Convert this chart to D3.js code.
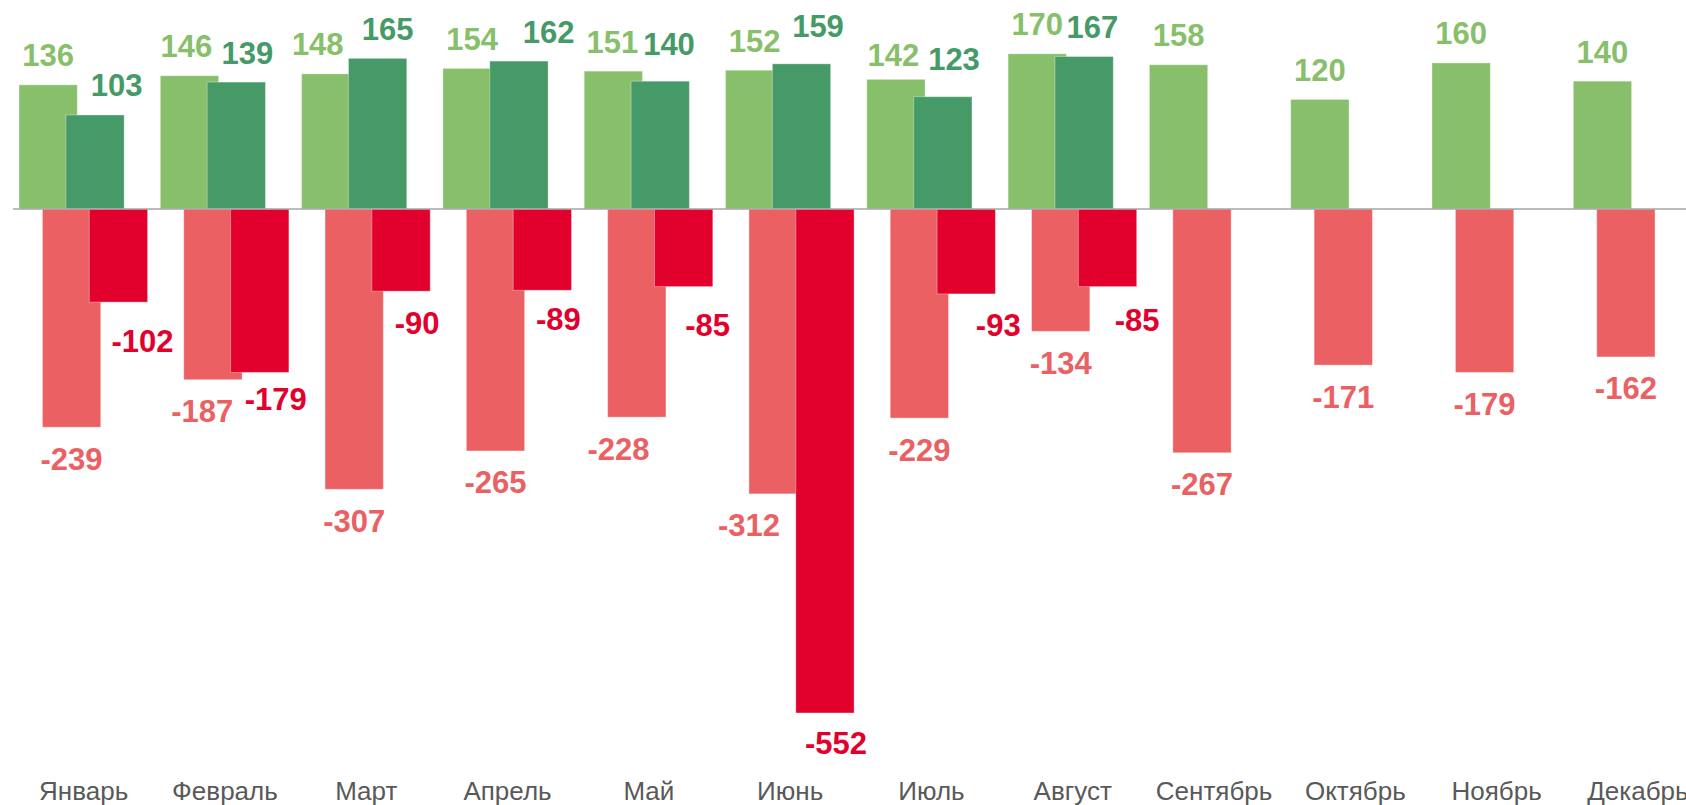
<!DOCTYPE html>
<html lang="ru">
<head>
    <meta charset="UTF-8">
    <title>Доходы и расходы по месяцам</title>
    <style>
        body { margin: 0; background: #fff; }
        svg { display: block; }
    </style>
</head>
<body>
<script src="https://cdn.jsdelivr.net/npm/d3@7"></script>
<script type="text/javascript">
    // Data
    var months = ["Январь", "Февраль", "Март", "Апрель", "Май", "Июнь",
        "Июль", "Август", "Сентябрь", "Октябрь", "Ноябрь", "Декабрь"];
    var incomePrev = [136, 146, 148, 154, 151, 152, 142, 170, 158, 120, 160, 140];
    var incomeCur = [103, 139, 165, 162, 140, 159, 123, 167];
    var expensePrev = [-239, -187, -307, -265, -228, -312, -229, -134, -267, -171, -179, -162];
    var expenseCur = [-102, -179, -90, -89, -85, -552, -93, -85];

    // Hand-placed label nudges (dx, dy in px), like the dragged labels of the original
    var nudgeIncomePrev = [[0,0],[-3,0],[-13,0],[0,0],[-1,0],[0,0],[-2.5,5],[0,0],[0,0],[0,0],[0,0],[0,0]];
    var nudgeIncomeCur = [[21.6,0],[11,0],[10,0],[29.8,0],[8.8,-7.7],[16.5,-8],[11.2,-8.2],[8.3,0]];
    var nudgeExpensePrev = [[0,0],[-10.7,0],[0,0],[0,0],[-18.3,0],[-29,0],[0,0],[0,0],[0,0],[0,0],[0,0],[0,0]];
    var nudgeExpenseCur = [[24,7],[16,-5],[16,0],[16,-3],[24,7],[11,-1.5],[32,0],[29.6,2]];

    var w = 1686;
    var h = 805;

    var series = [
        { key: "incPrev", values: incomePrev, color: "#87bf6b", nudge: nudgeIncomePrev },
        { key: "expPrev", values: expensePrev, color: "#eb6063", nudge: nudgeExpensePrev },
        { key: "incCur", values: incomeCur, color: "#459a67", nudge: nudgeIncomeCur },
        { key: "expCur", values: expenseCur, color: "#e2002c", nudge: nudgeExpenseCur }
    ];

    //Scales
    var xScale = d3.scaleBand()
        .domain(months)
        .range([13, 13 + 141.3 * months.length]);
    var slot = d3.scalePoint()
        .domain(["incPrev", "expPrev", "incCur", "expCur"])
        .range([6, 76.3]);
    var barW = 58.3;

    var yScale = d3.scaleLinear()
        .domain([-600, 200])
        .range([209 + 600 * 0.913, 209 - 200 * 0.913]);

    var svg = d3.select("body")
        .append("svg")
        .attr("width", w)
        .attr("height", h);

    // flatten to bars
    var bars = [];
    series.forEach(function (s) {
        s.values.forEach(function (v, i) {
            bars.push({ key: s.key, month: months[i], value: v, color: s.color,
                dx: s.nudge[i][0], dy: s.nudge[i][1] });
        });
    });
    // draw order: light green, dark green, light red, dark red
    var order = { incPrev: 0, incCur: 1, expPrev: 2, expCur: 3 };
    bars.sort(function (a, b) { return order[a.key] - order[b.key]; });

    svg.selectAll("rect.bar")
        .data(bars)
        .enter()
        .append("rect")
        .attr("class", "bar")
        .attr("x", function (d) { return xScale(d.month) + slot(d.key); })
        .attr("y", function (d) { return yScale(Math.max(0, d.value)); })
        .attr("width", barW)
        .attr("height", function (d) { return Math.abs(yScale(d.value) - yScale(0)); })
        .attr("fill", function (d) { return d.color; })
        .attr("stroke", "rgba(255,255,255,0.35)")
        .attr("stroke-width", 1);

    // zero line
    svg.append("line")
        .attr("x1", xScale.range()[0])
        .attr("x2", w)
        .attr("y1", yScale(0))
        .attr("y2", yScale(0))
        .attr("stroke", "#a6a6a6")
        .attr("stroke-width", 1.5);

    // value labels
    svg.selectAll("text.value")
        .data(bars)
        .enter()
        .append("text")
        .attr("class", "value")
        .attr("text-anchor", "middle")
        .attr("x", function (d) { return xScale(d.month) + slot(d.key) + barW / 2 + d.dx; })
        .attr("y", function (d) {
            return d.value >= 0 ? yScale(d.value) - 18.5 + d.dy : yScale(d.value) + 42.5 + d.dy;
        })
        .attr("font-family", "'Liberation Sans', Arial, sans-serif")
        .attr("font-size", "31px")
        .attr("font-weight", "bold")
        .attr("fill", function (d) { return d.color; })
        .text(function (d) { return d.value; });

    // month labels
    svg.selectAll("text.month")
        .data(months)
        .enter()
        .append("text")
        .attr("class", "month")
        .attr("text-anchor", "middle")
        .attr("x", function (d) { return xScale(d) + xScale.bandwidth() / 2; })
        .attr("y", 800)
        .attr("font-family", "'Liberation Sans', Arial, sans-serif")
        .attr("font-size", "26px")
        .attr("fill", "#595959")
        .text(function (d) { return d; });
</script>
</body>
</html>
